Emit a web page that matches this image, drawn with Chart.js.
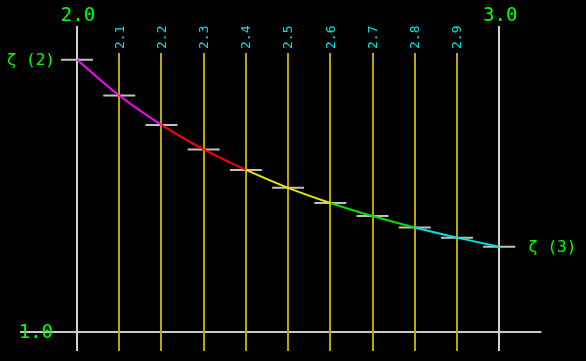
<!DOCTYPE html>
<html>
<head>
<meta charset="utf-8">
<script src="https://cdn.jsdelivr.net/npm/chart.js@4.4.1/dist/chart.umd.min.js"></script>
<style>
  html, body { margin: 0; padding: 0; background: #000; }
  #wrap { width: 586px; height: 361px; }
</style>
</head>
<body>
<div id="wrap"><canvas id="zetaChart" width="586" height="361"></canvas></div>
<script>
// s values and zeta(s)
var sValues = [2.0, 2.1, 2.2, 2.3, 2.4, 2.5, 2.6, 2.7, 2.8, 2.9, 3.0];
var zetaValues = [1.6449, 1.5602, 1.4905, 1.4324, 1.3838, 1.3415, 1.3057, 1.2746, 1.2474, 1.2235, 1.2021];
var tickLabels = ["2.0", "2.1", "2.2", "2.3", "2.4", "2.5", "2.6", "2.7", "2.8", "2.9", "3.0"];
var endLabels = ["ζ (2)", "ζ (3)"];
var baseLabel = "1.0";
var baseValue = 1.0;

// one colour for every two segments
var segColors = ['#ff00ff', '#ff0000', '#e8e800', '#00e000', '#00e0e0'];

var pts = sValues.map(function (s, i) { return { x: s, y: zetaValues[i] }; });

var mono = '"DejaVu Sans Mono", "Liberation Mono", monospace';

// guide lines and labels, placed through the chart's own scales
var guides = {
    id: 'guides',
    beforeDatasetsDraw: function (chart) {
        var ctx = chart.ctx, xs = chart.scales.x, ys = chart.scales.y;
        ctx.save();
        // base line y = 1
        var yb = Math.round(ys.getPixelForValue(baseValue));
        ctx.strokeStyle = '#c8c8c8';
        ctx.lineWidth = 2;
        ctx.beginPath();
        ctx.moveTo(xs.getPixelForValue(1.865), yb);
        ctx.lineTo(xs.getPixelForValue(3.1), yb);
        ctx.stroke();
        // verticals
        sValues.forEach(function (s, i) {
            var x = Math.round(xs.getPixelForValue(s));
            var edge = (i === 0 || i === sValues.length - 1);
            ctx.strokeStyle = edge ? '#d0d0d0' : '#b8a800';
            ctx.lineWidth = 2;
            ctx.beginPath();
            ctx.moveTo(x, edge ? 26 : 53);
            ctx.lineTo(x, 351);
            ctx.stroke();
        });
        ctx.restore();
    },
    afterDatasetsDraw: function (chart) {
        var ctx = chart.ctx, xs = chart.scales.x, ys = chart.scales.y;
        ctx.save();
        sValues.forEach(function (s, i) {
            var x = xs.getPixelForValue(s);
            var edge = (i === 0 || i === sValues.length - 1);
            if (edge) {
                ctx.fillStyle = '#00ff00';
                ctx.font = '19px ' + mono;
                ctx.textAlign = 'center';
                ctx.textBaseline = 'alphabetic';
                ctx.fillText(tickLabels[i], x + 1, 21);
            } else {
                ctx.save();
                ctx.translate(x + 1, 49);
                ctx.rotate(-Math.PI / 2);
                ctx.fillStyle = '#00e0e0';
                ctx.font = '13px ' + mono;
                ctx.textAlign = 'left';
                ctx.textBaseline = 'middle';
                ctx.fillText(tickLabels[i], 0, 0);
                ctx.restore();
            }
        });
        ctx.fillStyle = '#00ff00';
        ctx.textBaseline = 'middle';
        ctx.font = '16px ' + mono;
        ctx.textAlign = 'right';
        ctx.fillText(endLabels[0], xs.getPixelForValue(sValues[0]) - 22, ys.getPixelForValue(zetaValues[0]) + 1);
        ctx.textAlign = 'left';
        ctx.fillText(endLabels[1], xs.getPixelForValue(sValues[sValues.length - 1]) + 29, ys.getPixelForValue(zetaValues[zetaValues.length - 1]) + 1);
        ctx.font = '19px ' + mono;
        ctx.textAlign = 'right';
        ctx.fillText(baseLabel, xs.getPixelForValue(sValues[0]) - 24, ys.getPixelForValue(baseValue) + 1);
        ctx.restore();
    }
};

var ctxZ = document.getElementById('zetaChart').getContext('2d');
var zetaChart = new Chart(ctxZ, {
    type: 'scatter',
    data: {
        datasets: [{
                label: 'ticks',
                data: pts,
                showLine: false,
                pointStyle: 'line',
                pointRadius: 16,
                borderColor: '#c0c0c0',
                borderWidth: 2,
                clip: false,
                order: 2
            },
            {
                label: 'zeta',
                data: pts,
                showLine: true,
                pointRadius: 0,
                borderWidth: 2,
                cubicInterpolationMode: 'monotone',
                borderColor: segColors[0],
                segment: {
                    borderColor: function (c) { return segColors[Math.floor(c.p0DataIndex / 2)]; }
                },
                order: 1
            }
        ]
    },
    options: {
        responsive: false,
        animation: false,
        events: [],
        layout: { padding: 0, autoPadding: false },
        plugins: {
            legend: { display: false },
            tooltip: { enabled: false }
        },
        scales: {
            x: { type: 'linear', display: false, min: 1.81762, max: 3.20559 },
            y: { type: 'linear', display: false, min: 0.93132, max: 1.78636 }
        }
    },
    plugins: [guides]
});
</script>
</body>
</html>
